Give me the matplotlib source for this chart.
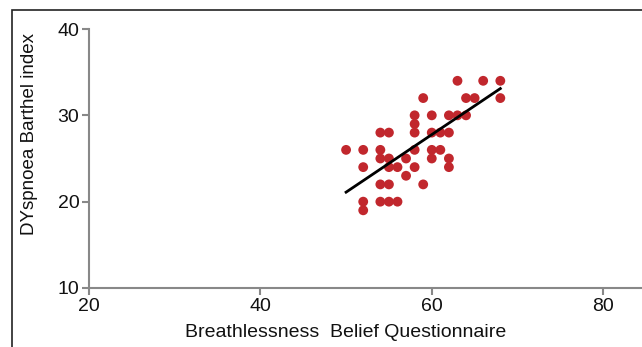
import matplotlib
matplotlib.use("Agg")
import matplotlib.pyplot as plt
from matplotlib.patches import Rectangle

plt.rcParams['font.family'] = ['Liberation Sans', 'DejaVu Sans']

# Data
bbq = [63, 66, 68,
       59, 64, 65, 68,
       58, 60, 62, 63, 64,
       58,
       54, 55, 58, 60, 61, 62,
       50, 52, 54, 58, 60, 61,
       54, 55, 57, 60, 62,
       52, 55, 56, 58, 62,
       57,
       54, 55, 59,
       52, 54, 55, 56,
       52]
barthel = [34, 34, 34,
           32, 32, 32, 32,
           30, 30, 30, 30, 30,
           29,
           28, 28, 28, 28, 28, 28,
           26, 26, 26, 26, 26, 26,
           25, 25, 25, 25, 25,
           24, 24, 24, 24, 24,
           23,
           22, 22, 22,
           20, 20, 20, 20,
           19]
fit_x = [50, 68]
fit_y = [21.1, 33.1]

x_ticks = [20, 40, 60, 80]
y_ticks = [10, 20, 30, 40]

W, H = 642, 347
fig = plt.figure(figsize=(W / 100, H / 100), dpi=100)

# outer frame (only left and top visible)
fig.patches.append(Rectangle((12 / W, -0.1), 1.2, (H - 10) / H + 0.1,
                             transform=fig.transFigure, fill=False,
                             edgecolor='#222222', linewidth=1.2))

left, right_px, top, bottom = 89, 89 + 557, 29, 288
ax = fig.add_axes([left / W, (H - bottom) / H, (right_px - left) / W, (bottom - top) / H])
ax.set_xlim(20, 85)
ax.set_ylim(10, 40)

ax.scatter(bbq, barthel, s=50, color='#C1272D', edgecolors='none', zorder=3)
ax.plot(fit_x, fit_y, color='black', linewidth=2, zorder=4)

for s in ['top', 'right']:
    ax.spines[s].set_visible(False)
for s in ['left', 'bottom']:
    ax.spines[s].set_color('#888888')
    ax.spines[s].set_linewidth(1.5)

ax.set_xticks(x_ticks)
ax.set_yticks(y_ticks)
ax.tick_params(axis='both', colors='#888888', length=5, width=1.5, labelsize=14,
               labelcolor='#111111')
ax.tick_params(axis='x', pad=2)
ax.tick_params(axis='y', pad=2)

ax.set_xlabel('Breathlessness  Belief Questionnaire', fontsize=14, color='#111111')
ax.xaxis.set_label_coords(0.46, -0.14)
ax.set_ylabel('DYspnoea Barthel index', fontsize=13.5, color='#111111')
ax.yaxis.set_label_coords(-0.092, 0.595)

fig.savefig('out.png', dpi=100)
